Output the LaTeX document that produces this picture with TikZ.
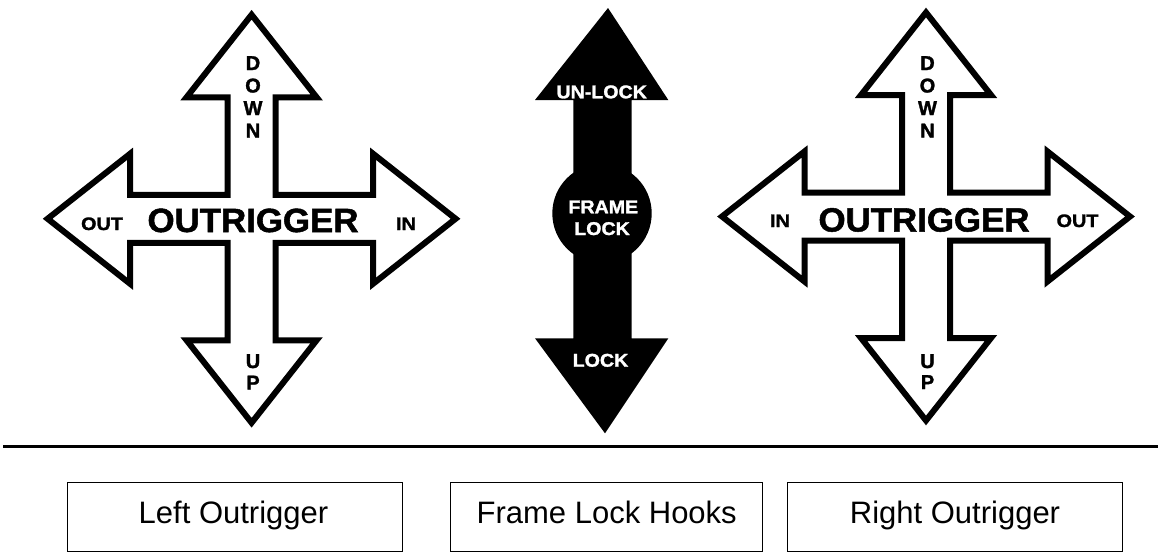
\documentclass[tikz,border=0pt]{standalone}
\usepackage{fontspec}
\setmainfont{Liberation Sans}
\newfontfamily\heavyfont[BoldFeatures={FakeBold=1.5}]{Liberation Sans}
\newcommand{\crosspath}{%
  (0,-204) -- (65,-121.5) -- (24,-121.5) -- (24,-24) -- (121.5,-24) -- (121.5,-65)
  -- (204,0) -- (121.5,65) -- (121.5,24) -- (24,24) -- (24,121.5) -- (65,121.5)
  -- (0,204) -- (-65,121.5) -- (-24,121.5) -- (-24,24) -- (-121.5,24) -- (-121.5,65)
  -- (-204,0) -- (-121.5,-65) -- (-121.5,-24) -- (-24,-24) -- (-24,-121.5) -- (-65,-121.5)
  -- cycle}
\begin{document}
\begin{tikzpicture}[x=1pt,y=-1pt,
  crossline/.style={draw=black, line width=6pt, line join=miter, fill=white},
  bigword/.style={inner sep=0pt, anchor=base, font=\heavyfont\bfseries\fontsize{33.5}{33.5}\selectfont},
  sideword/.style={inner sep=0pt, anchor=base, font=\heavyfont\bfseries\fontsize{18}{18}\selectfont},
  letter/.style={inner sep=0pt, anchor=base, font=\heavyfont\bfseries\fontsize{20}{20}\selectfont},
  lockword/.style={inner sep=0pt, anchor=base, text=white, font=\heavyfont\bfseries\fontsize{18.5}{18.5}\selectfont},
  boxlabel/.style={draw=black, line width=1.3pt, minimum width=335.4pt, minimum height=69pt, inner sep=0pt},
  boxtext/.style={inner sep=0pt, anchor=base, font=\fontsize{31}{31}\selectfont}]
\useasboundingbox (0,0) rectangle (1158,554);
\fill[white] (0,0) rectangle (1158,554);

% left outrigger cross
\begin{scope}[shift={(251.6,218.75)}]
  \path[crossline] \crosspath;
\end{scope}
\node[bigword] (lout) at (253,232) {\scalebox{1.04}[1]{OUTRIGGER}};
\node[sideword] (lleft) at (102,230) {\scalebox{1.1}[1]{OUT}};
\node[sideword] (lright) at (406,230) {\scalebox{1.12}[1]{IN}};
\node[letter] (ld1) at (253,70) {D};
\node[letter] (ld2) at (253,92.5) {O};
\node[letter] (ld3) at (253,115) {W};
\node[letter] (ld4) at (253,137.5) {N};
\node[letter] (lu1) at (253,368) {U};
\node[letter] (lu2) at (253,389.5) {P};

% right outrigger cross
\begin{scope}[shift={(926,216.5)}]
  \path[crossline] \crosspath;
\end{scope}
\node[bigword] (rout) at (924,231.5) {\scalebox{1.04}[1]{OUTRIGGER}};
\node[sideword] (rleft) at (780,227) {\scalebox{1.12}[1]{IN}};
\node[sideword] (rright) at (1077.5,227) {\scalebox{1.1}[1]{OUT}};
\node[letter] (rd1) at (927.5,70) {D};
\node[letter] (rd2) at (927.5,92.5) {O};
\node[letter] (rd3) at (927.5,115) {W};
\node[letter] (rd4) at (927.5,137.5) {N};
\node[letter] (ru1) at (927.5,368) {U};
\node[letter] (ru2) at (927.5,389) {P};

% frame lock arrow
\fill[black] (608,8) -- (668.3,100) -- (631.7,100) -- (631.7,338.3) -- (668.3,338.3)
  -- (605,433.3) -- (535,338.3) -- (573.3,338.3) -- (573.3,100) -- (535,100) -- cycle;
\fill[black] (602,213.4) circle[radius=49.7];
\node[lockword] (unlock) at (601.7,98.3) {\scalebox{1.06}[1]{UN-LOCK}};
\node[lockword] (frame) at (603.3,213.3) {\scalebox{1.06}[1]{FRAME}};
\node[lockword] (flock) at (602,235) {\scalebox{1.06}[1]{LOCK}};
\node[lockword] (lock) at (600.5,366.7) {\scalebox{1.06}[1]{LOCK}};

% separator line
\coordinate (sepL) at (3,446.7);
\coordinate (sepR) at (1158,446.7);
\draw[line width=3.5pt] (sepL) -- (sepR);

% caption boxes
\node[boxlabel] (box1) at (235,517.2) {};
\node[boxlabel, minimum width=312pt] (box2) at (606.7,517.2) {};
\node[boxlabel] (box3) at (955,517.2) {};
\node[boxtext] (t1) at (233.5,523.3) {Left Outrigger};
\node[boxtext] (t2) at (606.7,523.3) {Frame Lock Hooks};
\node[boxtext] (t3) at (955,523.3) {Right Outrigger};
\end{tikzpicture}
\end{document}
